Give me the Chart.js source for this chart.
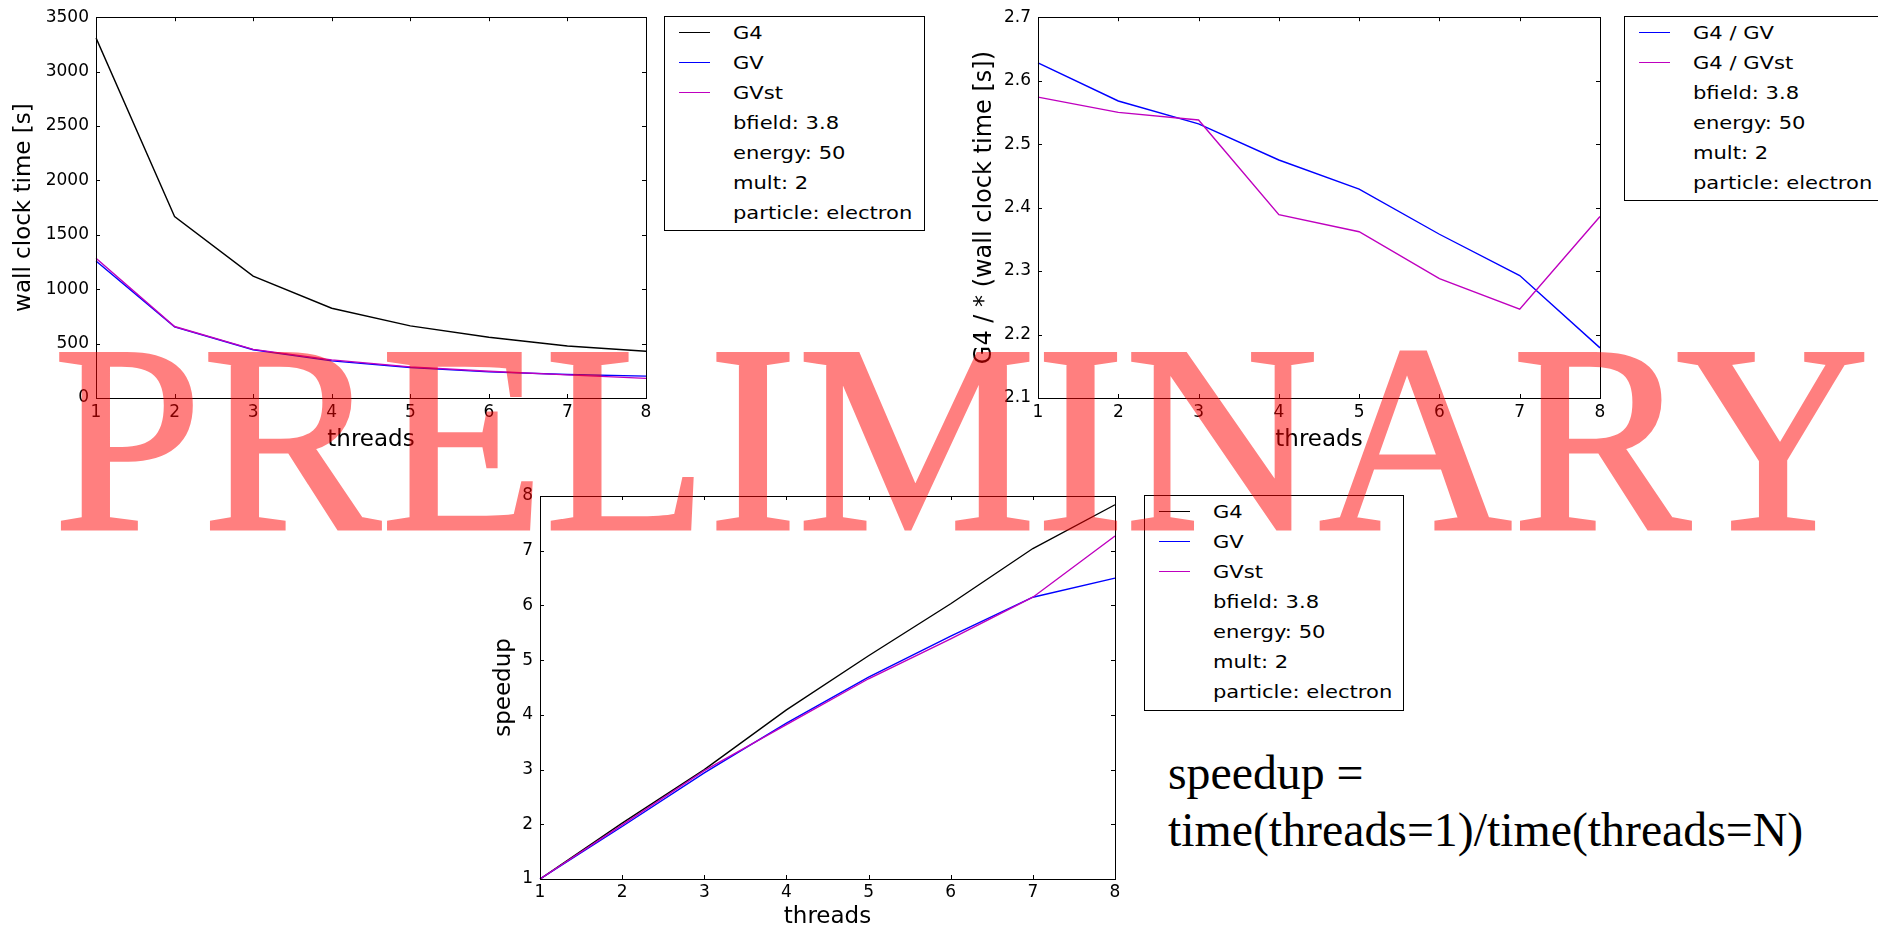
<!DOCTYPE html>
<html>
<head>
<meta charset="utf-8">
<title>G4 / GV wall clock time</title>
<script src="https://cdn.jsdelivr.net/npm/chart.js@4.4.0/dist/chart.umd.min.js"></script>
<style>
  html, body { margin: 0; padding: 0; background: #fff; }
  body { position: relative; width: 1878px; height: 931px; overflow: hidden; font-family: "DejaVu Sans", sans-serif; }
  canvas { position: absolute; }
  .legend { position: absolute; border: 1px solid #000; background: #fff; box-sizing: border-box; padding-top: 1px; }
  .legend .row { position: relative; height: 30px; line-height: 30px; font-size: 18px; white-space: nowrap; }
  .legend .swatch { position: absolute; left: 14px; top: 14px; width: 31px; height: 0; border-top: 1.5px solid; }
  .legend .label { position: absolute; left: 68px; top: 0; transform: scaleX(1.17); transform-origin: left center; }
  /* opacity sur l'élément entier : le contour ne double pas la teinte */
  #watermark { position: absolute; left: 53px; top: 305px; font-family: "Liberation Serif", serif; font-size: 268px; line-height: 1; color: #ff0000; -webkit-text-stroke: 3px #ff0000; opacity: 0.5; white-space: nowrap; z-index: 10; pointer-events: none; }
  #note { position: absolute; left: 1168px; top: 744px; font-family: "Liberation Serif", serif; font-size: 47.8px; line-height: 57px; color: #000; white-space: nowrap; }
</style>
</head>
<body>

<canvas id="wallChart" width="660" height="460" style="left:0px;top:0px"></canvas>
<canvas id="ratioChart" width="670" height="460" style="left:950px;top:0px"></canvas>
<canvas id="speedupChart" width="680" height="461" style="left:460px;top:470px"></canvas>

<div class="legend" id="legendWall" style="left:664px;top:16px;width:261px;height:215px"></div>
<div class="legend" id="legendRatio" style="left:1624px;top:16px;width:300px;height:185px"></div>
<div class="legend" id="legendSpeedup" style="left:1144px;top:495px;width:260px;height:216px"></div>

<div id="note">speedup =<br>time(threads=1)/time(threads=N)</div>
<div id="watermark">PRELIMINARY</div>

<script>
// === données ===
const threads = ['1', '2', '3', '4', '5', '6', '7', '8'];

// temps mur [s]
const wallG4   = [3310, 1668, 1120, 825, 663, 558, 478, 430];
const wallGV   = [1260, 654, 444, 341, 280, 240, 216, 201];
const wallGVst = [1284, 657, 447, 350, 286, 246, 213, 180];

// rapports G4 / *
const ratioGV   = [2.628, 2.568, 2.532, 2.475, 2.429, 2.358, 2.293, 2.179];
const ratioGVst = [2.574, 2.550, 2.538, 2.389, 2.362, 2.288, 2.240, 2.386];

// speedup = time(1) / time(N)
const speedupG4   = [1, 2.02, 3.0, 4.09, 5.08, 6.03, 7.04, 7.84];
const speedupGV   = [1, 1.96, 2.94, 3.85, 4.69, 5.44, 6.15, 6.50];
const speedupGVst = [1, 1.99, 2.98, 3.82, 4.66, 5.39, 6.15, 7.27];

// axes
const wallRange    = { min: 0, max: 3500, step: 500 };
const ratioRange   = { min: 2.1, max: 2.7, step: 0.1 };
const speedupRange = { min: 1, max: 8, step: 1 };

// texte de légende commun
const runInfo = ['bfield: 3.8', 'energy: 50', 'mult: 2', 'particle: electron'];

const BLACK = '#000000';
const BLUE = '#0000ff';
const MAGENTA = '#bf00bf';
const FONT = 'DejaVu Sans';

// === cadre + graduations vers l'intérieur (style matplotlib) ===
const framePlugin = {
  id: 'frame',
  afterDatasetsDraw(chart) {
    const { ctx, chartArea: a, scales: { x, y } } = chart;
    ctx.save();
    ctx.strokeStyle = '#000';
    ctx.lineWidth = 1;
    ctx.beginPath();
    x.ticks.forEach((t, i) => {
      const px = Math.round(x.getPixelForTick(i)) + 0.5;
      ctx.moveTo(px, a.bottom); ctx.lineTo(px, a.bottom - 4);
      ctx.moveTo(px, a.top); ctx.lineTo(px, a.top + 4);
    });
    y.ticks.forEach((t, i) => {
      const py = Math.round(y.getPixelForTick(i)) + 0.5;
      ctx.moveTo(a.left, py); ctx.lineTo(a.left + 4, py);
      ctx.moveTo(a.right, py); ctx.lineTo(a.right - 4, py);
    });
    ctx.stroke();
    ctx.strokeRect(Math.round(a.left) + 0.5, Math.round(a.top) + 0.5,
      Math.round(a.right - a.left), Math.round(a.bottom - a.top));
    ctx.restore();
  }
};

function line(label, data, color, order) {
  return {
    label: label,
    data: data,
    borderColor: color,
    backgroundColor: color,
    borderWidth: 1.4,
    pointRadius: 0,
    tension: 0,
    fill: false,
    order: order
  };
}

// === Fonction : construire un graphe ===
function makeChart(id, datasets, cfg) {
  return new Chart(document.getElementById(id), {
    type: 'line',
    data: { labels: threads, datasets: datasets },
    plugins: [framePlugin],
    options: {
      responsive: false,
      animation: false,
      devicePixelRatio: 1,
      events: [],
      layout: { padding: { top: cfg.padTop, right: cfg.padRight, left: 0, bottom: 0 } },
      plugins: { legend: { display: false }, tooltip: { enabled: false } },
      scales: {
        x: {
          type: 'category',
          offset: false,
          grid: { display: false, drawTicks: false },
          border: { display: false },
          ticks: { color: '#000', font: { family: FONT, size: 17 }, padding: cfg.xTickPad, maxRotation: 0, autoSkip: false },
          title: {
            display: true, text: 'threads', color: '#000',
            font: { family: FONT, size: 23, lineHeight: 1.2 },
            padding: { top: 0, bottom: cfg.xTitlePad }
          },
          afterFit: (s) => { s.height = cfg.xAxisH; }
        },
        y: {
          min: cfg.range.min,
          max: cfg.range.max,
          grid: { display: false, drawTicks: false },
          border: { display: false },
          ticks: {
            stepSize: cfg.range.step,
            color: '#000',
            font: { family: FONT, size: 17 },
            padding: 7,
            callback: cfg.fmt
          },
          title: {
            display: true, text: cfg.yTitle, color: '#000',
            font: { family: FONT, size: cfg.yTitleSize, lineHeight: 1.2 },
            padding: { top: cfg.yTitlePad, bottom: 0 }
          },
          afterFit: (s) => { s.width = cfg.yAxisW; }
        }
      }
    }
  });
}

makeChart('wallChart', [
  line('G4', wallG4, BLACK, 2),
  line('GV', wallGV, BLUE, 1),
  line('GVst', wallGVst, MAGENTA, 0)
], {
  range: wallRange, fmt: (v) => String(v), yTitle: 'wall clock time [s]', yTitleSize: 23,
  yAxisW: 96, xAxisH: 62, padTop: 16, padRight: 14,
  xTickPad: 4, xTitlePad: 6, yTitlePad: 10
});

makeChart('ratioChart', [
  line('G4 / GV', ratioGV, BLUE, 1),
  line('G4 / GVst', ratioGVst, MAGENTA, 0)
], {
  range: ratioRange, fmt: (v) => Number(v).toFixed(1), yTitle: 'G4 / * (wall clock time [s])', yTitleSize: 24,
  yAxisW: 88, xAxisH: 62, padTop: 16, padRight: 20,
  xTickPad: 4, xTitlePad: 6, yTitlePad: 20
});

makeChart('speedupChart', [
  line('G4', speedupG4, BLACK, 2),
  line('GV', speedupGV, BLUE, 1),
  line('GVst', speedupGVst, MAGENTA, 0)
], {
  range: speedupRange, fmt: (v) => String(v), yTitle: 'speedup', yTitleSize: 23,
  yAxisW: 80, xAxisH: 52, padTop: 26, padRight: 25,
  xTickPad: 3, xTitlePad: 0, yTitlePad: 30
});

// === légendes (matplotlib: lignes + texte libre) ===
function fillLegend(id, entries) {
  const box = document.getElementById(id);
  entries.forEach((e) => {
    const row = document.createElement('div');
    row.className = 'row';
    if (e.color) {
      const sw = document.createElement('div');
      sw.className = 'swatch';
      sw.style.borderTopColor = e.color;
      row.appendChild(sw);
    }
    const lb = document.createElement('span');
    lb.className = 'label';
    lb.textContent = e.text;
    row.appendChild(lb);
    box.appendChild(row);
  });
}

const infoRows = runInfo.map((t) => ({ text: t }));
fillLegend('legendWall', [
  { text: 'G4', color: BLACK }, { text: 'GV', color: BLUE }, { text: 'GVst', color: MAGENTA }
].concat(infoRows));
fillLegend('legendRatio', [
  { text: 'G4 / GV', color: BLUE }, { text: 'G4 / GVst', color: MAGENTA }
].concat(infoRows));
fillLegend('legendSpeedup', [
  { text: 'G4', color: BLACK }, { text: 'GV', color: BLUE }, { text: 'GVst', color: MAGENTA }
].concat(infoRows));
</script>
</body>
</html>
